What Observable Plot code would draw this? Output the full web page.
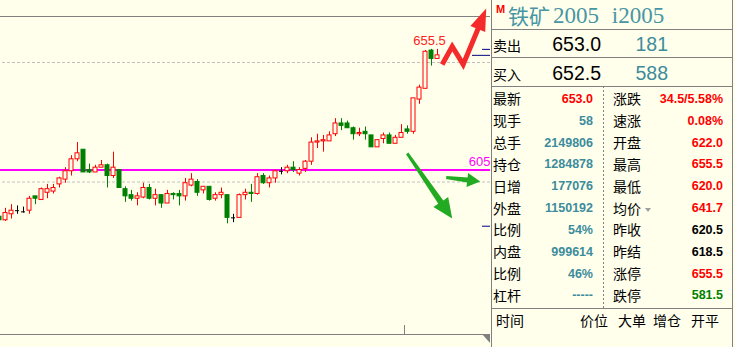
<!DOCTYPE html>
<html>
<head>
<meta charset="utf-8">
<script src="https://cdn.jsdelivr.net/npm/d3@7"></script>
<script src="https://cdn.jsdelivr.net/npm/@observablehq/plot@0.6"></script>
<style>
  html, body { margin: 0; padding: 0; background: #ffffec; }
  #wrap { position: relative; width: 735px; height: 347px; overflow: hidden; background: #ffffec;
          font-family: "Liberation Sans", Arial, sans-serif; }
  #chart { position: absolute; left: 0; top: 0; }
  .ln { position: absolute; background: #808080; }
  .t { position: absolute; white-space: nowrap; line-height: 1; transform: translateY(-50%); }
  .r { transform: translate(-100%, -50%); }
  .cn { font-family: "Noto Sans CJK SC", sans-serif; font-size: 14px; color: #000; }
  .v { font-size: 12.5px; font-weight: bold; }
  .big { font-size: 19.5px; }
  .up { color: #ff0000; }
  .dn { color: #008000; }
  .eq { color: #000; }
  .vol { color: #3c8c9c; }
</style>
</head>
<body>
<div id="wrap"></div>
<script>
// Iron ore i2005 — intraday candles (oldest first)
const openPrices = [
  585.5, 584.0, 586.5, 588.0, 587.5, 588.0, 594.0, 592.5, 595.5, 596.0,
  599.0, 601.0, 604.5, 609.5, 613.5, 605.0, 604.0, 606.0, 607.0, 602.5,
  605.0, 597.0, 594.5, 593.0, 593.5, 597.5, 593.0, 594.5, 591.0, 595.0,
  595.0, 594.0, 598.5, 600.0, 596.5, 598.0, 593.0, 594.5, 594.5, 585.0,
  585.0, 594.5, 595.5, 595.0, 602.5, 599.5, 601.5, 604.5, 604.5, 606.0,
  603.5, 605.5, 608.5, 616.5, 617.0, 617.0, 620.0, 624.5, 624.5, 622.5,
  620.0, 621.0, 619.5, 614.5, 618.0, 619.5, 616.0, 618.5, 622.0, 621.0,
  634.5, 639.0, 655.0, 651.5
];
const highPrices = [
  585.5, 589.0, 590.5, 590.0, 589.5, 594.0, 594.0, 597.5, 599.0, 599.0,
  602.0, 606.0, 611.0, 616.5, 613.5, 607.5, 607.0, 609.0, 607.5, 612.5,
  605.0, 598.0, 596.5, 595.5, 599.5, 599.0, 597.0, 594.5, 596.5, 595.5,
  596.5, 601.5, 603.5, 601.0, 598.0, 598.0, 595.5, 597.5, 594.5, 586.5,
  595.0, 597.0, 599.0, 603.5, 603.5, 602.5, 605.0, 606.0, 607.0, 608.5,
  606.0, 609.0, 618.5, 620.0, 619.5, 621.0, 626.5, 626.5, 625.5, 623.0,
  622.5, 623.0, 619.5, 617.5, 620.5, 620.5, 619.5, 624.0, 623.5, 635.0,
  640.5, 655.0, 655.5, 655.5
];
const lowPrices = [
  583.5, 583.5, 584.5, 586.5, 587.0, 586.5, 590.5, 592.5, 593.0, 595.0,
  597.5, 599.5, 602.5, 608.5, 604.0, 603.5, 604.0, 606.0, 597.5, 601.5,
  597.5, 591.5, 592.0, 590.0, 593.0, 592.5, 590.0, 589.0, 591.0, 592.5,
  590.0, 592.0, 598.0, 594.0, 595.0, 592.0, 592.0, 593.0, 582.5, 583.0,
  585.0, 592.5, 591.5, 594.5, 599.0, 597.5, 599.5, 603.0, 603.5, 604.0,
  602.5, 604.0, 607.0, 614.0, 612.5, 617.0, 619.0, 621.5, 622.5, 617.5,
  619.0, 617.5, 614.5, 614.5, 616.0, 616.0, 616.0, 618.5, 620.0, 620.0,
  632.5, 639.0, 648.5, 651.5
];
const closePrices = [
  584.0, 587.0, 588.0, 588.0, 587.5, 593.0, 593.0, 597.0, 597.0, 597.5,
  601.5, 604.5, 609.5, 612.0, 604.0, 604.0, 606.0, 607.0, 602.5, 606.0,
  597.5, 594.0, 593.0, 594.0, 597.5, 593.0, 594.5, 591.0, 595.0, 594.5,
  594.0, 599.5, 601.0, 595.5, 598.0, 592.5, 594.5, 595.5, 585.0, 585.0,
  594.5, 595.5, 595.0, 602.0, 599.5, 601.5, 604.5, 604.5, 606.0, 605.0,
  605.0, 608.5, 616.5, 617.0, 617.5, 619.5, 624.5, 623.5, 622.5, 620.0,
  620.5, 620.0, 614.5, 617.5, 619.5, 616.0, 618.5, 620.5, 621.0, 635.0,
  639.5, 654.5, 651.5, 653.0
];

// Reference levels
const gridLevels = [600, 650];
const frameBounds = [536.2, 669.25];
const pivotLevel = 605;
const lastPrice = 653.0;
const limitUp = 655.5;
const limitDown = 581.5;
const dayBreak = 67.5;   // session boundary between bars 67 and 68

// Hand-drawn trend arrows, in (bar index, price) units
const redZigzag = [
  {i: 73.78, p: 649.2}, {i: 75.45, p: 656.7}, {i: 77.28, p: 649.2}, {i: 79.78, p: 664.2}
];
const redHead = [
  {i: 78.48, p: 665.3}, {i: 81.12, p: 672.6}, {i: 80.95, p: 662.8}
];
const greenDown = [
  {i: 67.75, p: 611.6}, {i: 68.15, p: 612.3}, {i: 73.97, p: 592.3}, {i: 74.78, p: 593.7},
  {i: 75.45, p: 584.7}, {i: 72.32, p: 589.5}, {i: 73.13, p: 590.9}
];
const greenFlat = [
  {i: 74.48, p: 602.5}, {i: 78.02, p: 601.9}, {i: 78.10, p: 603.8}, {i: 80.12, p: 600.2},
  {i: 77.83, p: 597.9}, {i: 77.92, p: 599.8}, {i: 74.42, p: 601.3}
];

// Quote panel
const titleName = "铁矿", titleCode = "2005", titleSymbol = "i2005";
const bookLabels = ["卖出", "买入"];
const bookPrices = ["653.0", "652.5"];
const bookSizes = ["181", "588"];
const leftLabels = ["最新", "现手", "总手", "持仓", "日增", "外盘", "比例", "内盘", "比例", "杠杆"];
const leftValues = [lastPrice.toFixed(1), "58", "2149806", "1284878", "177076", "1150192", "54%", "999614", "46%", "-----"];
const leftTones = ["up", "vol", "vol", "vol", "vol", "vol", "vol", "vol", "vol", "vol"];
const rightLabels = ["涨跌", "速涨", "开盘", "最高", "最低", "均价", "昨收", "昨结", "涨停", "跌停"];
const rightValues = ["34.5/5.58%", "0.08%", "622.0", "655.5", "620.0", "641.7", "620.5", "618.5",
                     limitUp.toFixed(1), limitDown.toFixed(1)];
const rightTones = ["up", "up", "up", "up", "up", "up", "eq", "eq", "up", "dn"];
const tradeHeaders = ["时间", "价位", "大单", "增仓", "开平"];

const RED = "#ff0000", GREEN = "#008000", BG = "#ffffec";
const N = openPrices.length;
const bars = d3.range(N).map(i => ({i, o: openPrices[i], h: highPrices[i], l: lowPrices[i], c: closePrices[i]}));
const rising = bars.filter(d => d.c > d.o);
const falling = bars.filter(d => d.c < d.o);
const doji = bars.filter(d => d.c === d.o);
const half = 1 / 3;
const peak = bars[d3.maxIndex(bars, d => d.h)];

const chart = Plot.plot({
  width: 490,
  height: 347,
  marginTop: 16,
  marginBottom: 13,
  marginLeft: 0,
  marginRight: 0,
  x: {type: "linear", domain: [0, N - 1], range: [-1, -1 + 6 * (N - 1)], axis: null},
  y: {domain: frameBounds, axis: null},
  style: {background: "transparent", overflow: "visible"},
  marks: [
    Plot.ruleY(gridLevels, {stroke: "#c0c0c0", strokeDasharray: "3,2", insetLeft: 2}),
    Plot.ruleY(frameBounds, {stroke: "#808080"}),
    Plot.ruleX([dayBreak], {stroke: "#808080", insetTop: 309}),
    Plot.ruleY([pivotLevel], {stroke: "#ff00ff", strokeWidth: 2}),
    Plot.text([pivotLevel], {y: d => d, text: d => String(d), frameAnchor: "right", textAnchor: "end",
      dy: -8, fill: "#ff00ff", fontSize: 13, fontFamily: "Liberation Sans, Arial, sans-serif"}),
    // wicks
    Plot.ruleX(rising, {x: "i", y1: "l", y2: "h", stroke: RED}),
    Plot.ruleX(falling, {x: "i", y1: "l", y2: "h", stroke: GREEN}),
    Plot.ruleX(doji, {x: "i", y1: "l", y2: "h", stroke: "#000"}),
    // bodies
    Plot.rect(rising, {x1: d => d.i - half, x2: d => d.i + half, y1: "o", y2: "c", fill: BG, stroke: RED}),
    Plot.rect(falling, {x1: d => d.i - half, x2: d => d.i + half, y1: "o", y2: "c", fill: GREEN, stroke: GREEN}),
    Plot.ruleY(doji, {y: "c", x1: d => d.i - half, x2: d => d.i + half, stroke: "#000"}),
    // price markers on the right edge
    Plot.ruleY([limitUp, limitDown], {stroke: "#000080", insetLeft: 482}),
    Plot.ruleY([lastPrice], {stroke: "#000080", insetLeft: 472}),
    Plot.text([peak], {x: "i", y: "h", text: d => d.h.toFixed(1), dy: -9, dx: -2, fill: "#f22",
      fontSize: 13, fontFamily: "Liberation Sans, Arial, sans-serif"}),
    // trend arrows
    Plot.line(redZigzag, {x: "i", y: "p", stroke: "#f52a2a", strokeWidth: 5, strokeLinejoin: "miter", strokeLinecap: "butt", strokeMiterlimit: 4}),
    Plot.line(redHead, {x: "i", y: "p", fill: "#f52a2a", stroke: "none"}),
    Plot.line(greenDown, {x: "i", y: "p", fill: "#22aa22", stroke: "none"}),
    Plot.line(greenFlat, {x: "i", y: "p", fill: "#22aa22", stroke: "none"})
  ]
});

const wrap = document.getElementById("wrap");
chart.id = "chart";
wrap.appendChild(chart);

function line(x, y, w, h) {
  const el = document.createElement("div");
  el.className = "ln";
  Object.assign(el.style, {left: x + "px", top: y + "px", width: w + "px", height: h + "px"});
  wrap.appendChild(el);
  return el;
}
function text(str, x, y, cls, right) {
  const el = document.createElement("div");
  el.className = "t " + cls + (right ? " r" : "");
  el.textContent = str;
  el.style.left = x + "px";
  el.style.top = y + "px";
  wrap.appendChild(el);
  return el;
}

// panel frame
line(491, 0, 1, 347);
line(732, 0, 1, 347);
[29, 57, 86, 308].forEach(y => line(491, y, 242, 1));
const dash = line(603, 86, 1, 222);
dash.style.background = "repeating-linear-gradient(to bottom, #808080 0 2px, transparent 2px 4px)";
const tri = document.createElement("div");
Object.assign(tri.style, {position: "absolute", left: "482px", top: "334px", width: 0, height: 0,
  borderTop: "9px solid #808080", borderLeft: "8px solid transparent"});
wrap.appendChild(tri);

// title
const m = text("M", 496, 9, "");
Object.assign(m.style, {color: "#ff0000", fontWeight: "bold", fontSize: "11px"});
const tn = text(titleName, 508, 15, "");
Object.assign(tn.style, {fontFamily: '"Noto Sans CJK SC", sans-serif', fontSize: "21px", color: "#4896a4"});
const tc = text(titleCode + " " + titleSymbol, 553, 15, "");
Object.assign(tc.style, {fontFamily: '"Liberation Serif", serif', fontSize: "23px", color: "#4896a4", wordSpacing: "7px"});

// order book
bookLabels.forEach((lab, k) => {
  const y = [44.5, 73.5][k];
  text(lab, 493, y, "cn");
  text(bookPrices[k], 601, y + 0.5, "big eq", true);
  text(bookSizes[k], 668, y + 0.5, "big vol", true);
});

// statistics
leftLabels.forEach((lab, k) => {
  const y = 98.3 + 21.85 * k;
  text(lab, 493, y, "cn");
  text(leftValues[k], 593, y + 0.5, "v " + leftTones[k], true);
  text(rightLabels[k], 613, y, "cn");
  text(rightValues[k], 723, y + 0.5, "v " + rightTones[k], true);
});
const caret = document.createElement("div");
Object.assign(caret.style, {position: "absolute", left: "645px", top: "208px", width: 0, height: 0,
  borderTop: "4px solid #a0a0a0", borderLeft: "3.5px solid transparent", borderRight: "3.5px solid transparent"});
wrap.appendChild(caret);

// trade list header
[496, 580, 618, 653, 691].forEach((x, k) => text(tradeHeaders[k], x, 320, "cn"));
</script>
</body>
</html>
